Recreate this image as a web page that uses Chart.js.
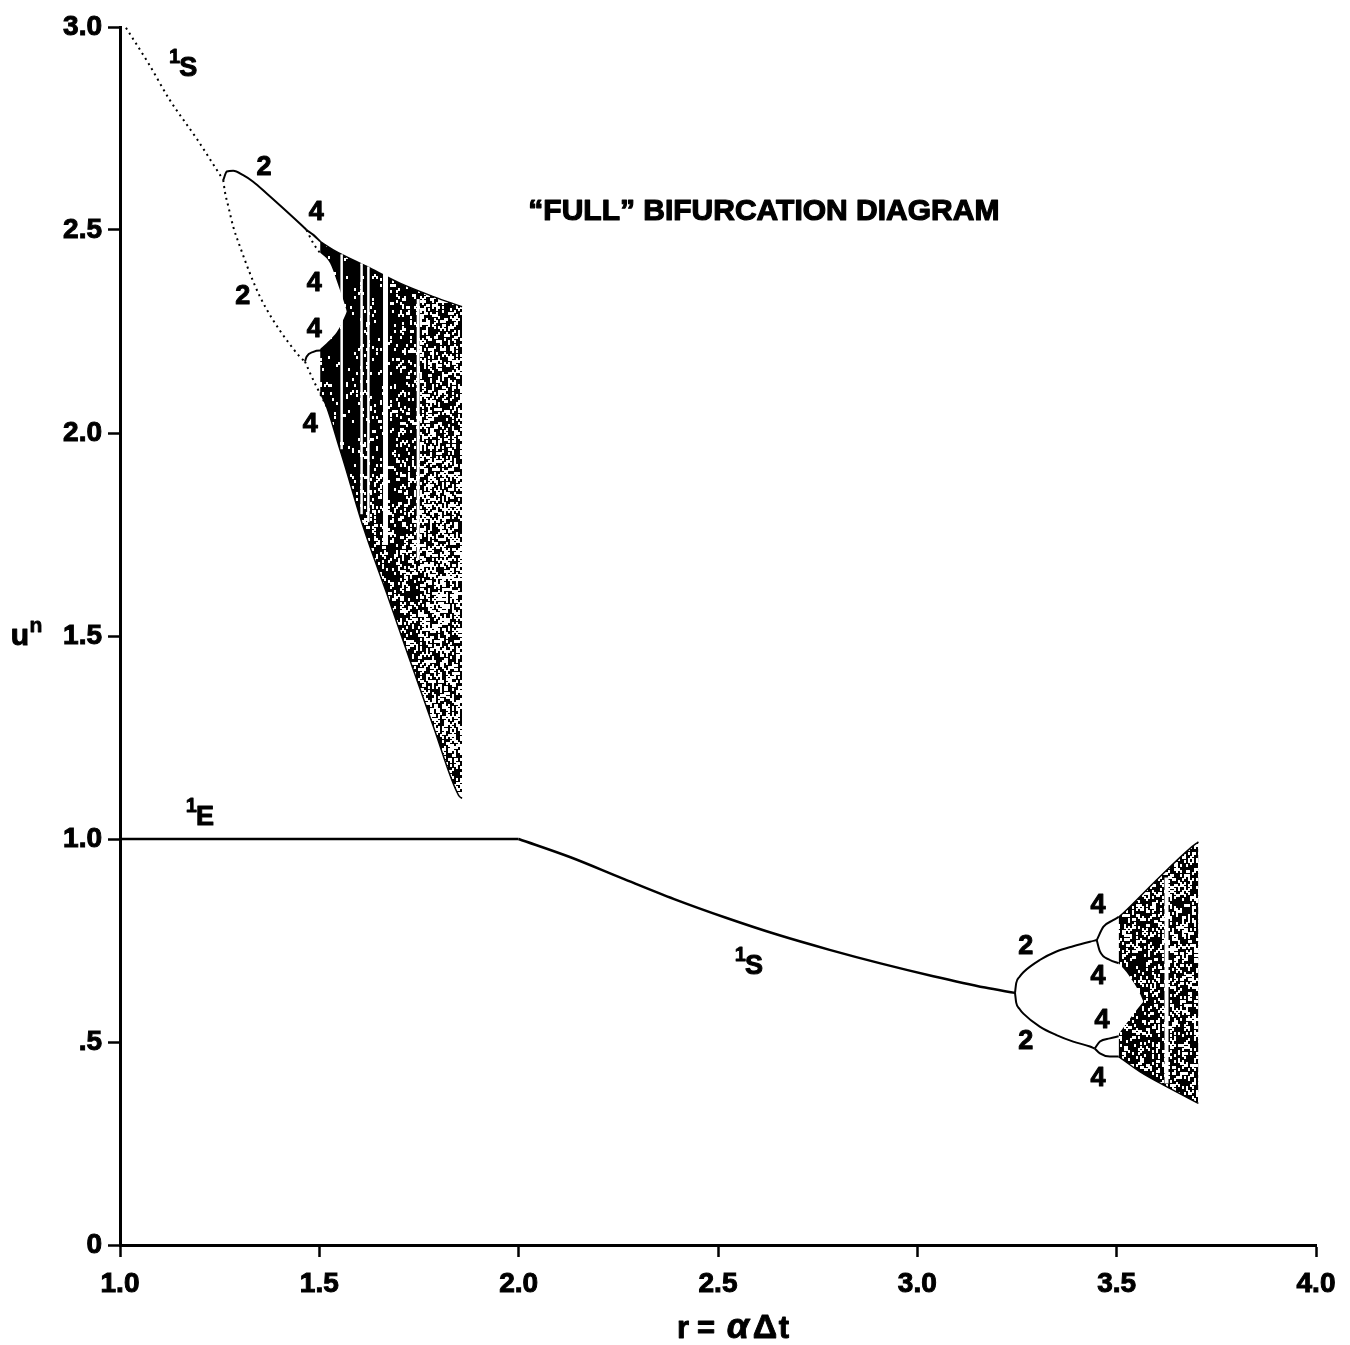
<!DOCTYPE html>
<html>
<head>
<meta charset="utf-8">
<script src="https://cdn.jsdelivr.net/npm/chart.js@4.4.1/dist/chart.umd.min.js"></script>
<style>
  html, body { margin: 0; padding: 0; background: #fff; }
  canvas { display: block; }
</style>
</head>
<body>
<canvas id="chart" width="1350" height="1345"></canvas>
<script>
// ---------------- data (r = alpha*dt, u^n) ----------------
const xTickLabels = ['1.0', '1.5', '2.0', '2.5', '3.0', '3.5', '4.0'];
const yTickLabels = ['0', '.5', '1.0', '1.5', '2.0', '2.5', '3.0'];

// spurious period-1 branch starting at u = 3
const s1HighR = [1.015, 1.071, 1.125, 1.193, 1.259];
const s1HighU = [2.998, 2.911, 2.820, 2.724, 2.623];
// period-2 pair off that branch
const p2HighUpperR = [1.259, 1.268, 1.284, 1.309, 1.334, 1.368, 1.410, 1.451, 1.468];
const p2HighUpperU = [2.623, 2.644, 2.646, 2.635, 2.619, 2.590, 2.553, 2.516, 2.500];
const p2HighLowerR = [1.259, 1.263, 1.272, 1.284, 1.301, 1.326, 1.351, 1.384, 1.418, 1.451, 1.464];
const p2HighLowerU = [2.623, 2.595, 2.557, 2.508, 2.459, 2.393, 2.336, 2.278, 2.229, 2.188, 2.176];
// period-4 orbits
const p4HighAR = [1.468, 1.485, 1.502];
const p4HighAU = [2.500, 2.488, 2.472];
const p4HighBR = [1.468, 1.485, 1.502];
const p4HighBU = [2.500, 2.467, 2.443];
const p4HighCR = [1.464, 1.468, 1.485, 1.502, 1.514];
const p4HighCU = [2.176, 2.188, 2.200, 2.203, 2.200];
const p4HighDR = [1.464, 1.477, 1.493, 1.510, 1.527];
const p4HighDU = [2.176, 2.147, 2.114, 2.081, 2.049];
// chaotic band, upper and lower envelopes
const chaosHighTopR = [1.502, 1.535, 1.619, 1.702, 1.786, 1.858];
const chaosHighTopU = [2.472, 2.451, 2.410, 2.369, 2.336, 2.311];
const chaosHighBotR = [1.502, 1.518, 1.552, 1.560, 1.610, 1.669, 1.727, 1.786, 1.849, 1.858];
const chaosHighBotU = [2.100, 2.065, 1.958, 1.933, 1.769, 1.605, 1.441, 1.277, 1.108, 1.100];
// gap between the two chaotic sub-bands before they merge
const gapHighTopR = [1.497, 1.527, 1.543, 1.560, 1.569];
const gapHighTopU = [2.448, 2.418, 2.377, 2.328, 2.299];
const gapHighBotR = [1.497, 1.518, 1.535, 1.552, 1.569];
const gapHighBotU = [2.203, 2.221, 2.238, 2.262, 2.299];
// periodic windows inside the band: r, upper and lower u
const windowHighR  = [1.556, 1.606, 1.623, 1.666, 1.748];
const windowHighHi = [2.440, 2.418, 2.410, 2.400, 2.330];
const windowHighLo = [1.960, 1.800, 1.780, 1.724, 1.687];

// exact steady state u = 1 and the spurious branch after r = 2
const e1R = [1.0, 2.0];
const e1U = [1.0, 1.0];
const s1LowR = [2.000, 2.130, 2.260, 2.390, 2.520, 2.650, 2.780, 2.910, 3.040, 3.170, 3.245];
const s1LowU = [1.000, 0.955, 0.903, 0.852, 0.806, 0.764, 0.727, 0.693, 0.662, 0.634, 0.621];
const p2LowUpperR = [3.245, 3.248, 3.256, 3.266, 3.307, 3.349, 3.391, 3.433, 3.450];
const p2LowUpperU = [0.621, 0.645, 0.660, 0.672, 0.702, 0.723, 0.736, 0.747, 0.751];
const p2LowLowerR = [3.245, 3.248, 3.256, 3.266, 3.307, 3.349, 3.391, 3.433, 3.445];
const p2LowLowerU = [0.621, 0.597, 0.582, 0.570, 0.538, 0.517, 0.501, 0.489, 0.484];
const p4LowAR = [3.450, 3.467, 3.491, 3.505];
const p4LowAU = [0.751, 0.784, 0.800, 0.808];
const p4LowBR = [3.450, 3.458, 3.483, 3.505];
const p4LowBU = [0.751, 0.723, 0.702, 0.694];
const p4LowCR = [3.445, 3.458, 3.483, 3.505];
const p4LowCU = [0.484, 0.501, 0.509, 0.514];
const p4LowDR = [3.445, 3.458, 3.483, 3.505];
const p4LowDU = [0.484, 0.472, 0.464, 0.464];
const chaosLowTopR = [3.505, 3.516, 3.600, 3.684, 3.705];
const chaosLowTopU = [0.808, 0.817, 0.899, 0.977, 0.993];
const chaosLowBotR = [3.505, 3.558, 3.625, 3.705];
const chaosLowBotU = [0.464, 0.427, 0.390, 0.349];
const gapLowTopR = [3.501, 3.533, 3.558, 3.567];
const gapLowTopU = [0.698, 0.661, 0.620, 0.599];
const gapLowBotR = [3.501, 3.525, 3.550, 3.567];
const gapLowBotU = [0.514, 0.546, 0.579, 0.599];
const windowLowR  = [3.625];
const windowLowHi = [0.905];
const windowLowLo = [0.398];

// branch labels: main glyph, leading superscript, position (r, u)
const branchText = ['S', '2', '4', '2', '4', '4', '4', 'E', 'S', '2', '4', '4', '4', '2', '4'];
const branchSup  = ['1', '', '', '', '', '', '', '1', '1', '', '', '', '', '', ''];
const branchR = [1.171, 1.361, 1.492, 1.308, 1.487, 1.487, 1.477, 1.213, 2.590, 3.272, 3.453, 3.453, 3.463, 3.272, 3.453];
const branchU = [2.897, 2.655, 2.542, 2.335, 2.369, 2.256, 2.022, 1.052, 0.687, 0.736, 0.835, 0.660, 0.554, 0.500, 0.409];

const diagramTitle = '\u201CFULL\u201D BIFURCATION DIAGRAM';
const xTitleParts = ['r', '=', '\u03B1', '\u0394', 't'];

// ---------------- drawing ----------------
const FONT = '"Liberation Sans", Arial, Helvetica, sans-serif';
const pts = (rs, us) => rs.map((r, i) => ({ x: r, y: us[i] }));
const windowHighWidth = [2.5, 2.5, 2.5, 5, 3];
const windowLowWidth = [4];

let grain = '#111';
// speckled look of the densely iterated chaotic regions
function grainNoise(i, j) {
  let h = Math.imul(i, 374761393) + Math.imul(j, 668265263);
  h = Math.imul(h ^ (h >>> 13), 1274126177);
  h ^= h >>> 16;
  return (h >>> 0) / 4294967296;
}
function grainDensity(r, u) {
  if (r > 2.5) return r < 3.6 ? 0.22 : 0.27;
  let d = r < 1.60 ? 0.04 : r < 1.70 ? 0.09 : r < 1.75 ? 0.17 : 0.30;
  if (u < 1.9) d += 0.08;
  return d;
}
const grainPlugin = {
  id: 'grain',
  afterLayout(chart) {
    const { x, y } = chart.scales;
    const c = document.createElement('canvas');
    c.width = chart.width; c.height = chart.height;
    const g = c.getContext('2d');
    g.fillStyle = '#000';
    g.fillRect(0, 0, c.width, c.height);
    g.fillStyle = '#fff';
    for (let py = 0; py < c.height; py += 2) {
      const u = y.getValueForPixel(py);
      for (let px = 0; px < c.width; px += 2) {
        const r = x.getValueForPixel(px);
        if (grainNoise(px >> 1, py >> 1) < grainDensity(r, u)) g.fillRect(px, py, 2, 3);
      }
    }
    grain = g.createPattern(c, 'no-repeat');
  }
};

const datasets = [];
function addCurve(rs, us, dotted, width) {
  datasets.push({
    data: pts(rs, us), showLine: true, pointRadius: 0, fill: false,
    borderColor: '#000', borderWidth: width || 2, borderDash: dotted ? [2, 4] : [],
    borderCapStyle: 'butt', cubicInterpolationMode: 'monotone', clip: false, order: 1
  });
}
function addBand(topR, topU, botR, botU, color, edge, order) {
  const i = datasets.length;
  const common = { showLine: true, pointRadius: 0, borderColor: '#000', borderWidth: edge,
    cubicInterpolationMode: 'monotone', order };
  datasets.push(Object.assign({ data: pts(topR, topU), fill: false }, common));
  datasets.push(Object.assign({ data: pts(botR, botU), fill: { target: i }, backgroundColor: color }, common));
}
function addWindows(rs, his, los, widths) {
  rs.forEach((r, i) => datasets.push({
    data: [{ x: r, y: los[i] }, { x: r, y: his[i] }], showLine: true, pointRadius: 0,
    fill: false, borderColor: '#fff', borderWidth: widths[i], order: 4
  }));
}

// chaotic regions
addBand(chaosHighTopR, chaosHighTopU, chaosHighBotR, chaosHighBotU, () => grain, 1.5, 10);
addBand(chaosLowTopR, chaosLowTopU, chaosLowBotR, chaosLowBotU, () => grain, 1.5, 10);
addBand(gapHighTopR, gapHighTopU, gapHighBotR, gapHighBotU, '#fff', 0, 6);
addBand(gapLowTopR, gapLowTopU, gapLowBotR, gapLowBotU, '#fff', 0, 6);
addWindows(windowHighR, windowHighHi, windowHighLo, windowHighWidth);
addWindows(windowLowR, windowLowHi, windowLowLo, windowLowWidth);

// branches
addCurve(s1HighR, s1HighU, true);
addCurve(p2HighUpperR, p2HighUpperU, false);
addCurve(p2HighLowerR, p2HighLowerU, true);
addCurve(p4HighAR, p4HighAU, false);
addCurve(p4HighBR, p4HighBU, true);
addCurve(p4HighCR, p4HighCU, false);
addCurve(p4HighDR, p4HighDU, true);
addCurve(e1R, e1U, false, 2.5);
addCurve(s1LowR, s1LowU, false, 2.5);
addCurve(p2LowUpperR, p2LowUpperU, false);
addCurve(p2LowLowerR, p2LowLowerU, false);
addCurve(p4LowAR, p4LowAU, false);
addCurve(p4LowBR, p4LowBU, false);
addCurve(p4LowCR, p4LowCU, false);
addCurve(p4LowDR, p4LowDU, false);

function heavyText(ctx, t, px, py, stroke) {
  ctx.lineWidth = stroke;
  ctx.strokeText(t, px, py);
  ctx.fillText(t, px, py);
}

const textPlugin = {
  id: 'texts',
  afterDraw(chart) {
    const { ctx, scales: { x, y } } = chart;
    ctx.save();
    ctx.fillStyle = '#000';
    ctx.strokeStyle = '#000';
    ctx.lineJoin = 'round';
    ctx.textBaseline = 'middle';
    branchText.forEach((t, i) => {
      const px = x.getPixelForValue(branchR[i]);
      const py = y.getPixelForValue(branchU[i]);
      ctx.font = 'bold 27px ' + FONT;
      ctx.textAlign = 'center';
      heavyText(ctx, t, px, py, 1);
      if (branchSup[i]) {
        const w = ctx.measureText(t).width;
        ctx.font = 'bold 20px ' + FONT;
        ctx.textAlign = 'right';
        heavyText(ctx, branchSup[i], px - w / 2 + 1, py - 11, 0.8);
      }
    });
    // title inside the plot
    ctx.font = 'bold 30px ' + FONT;
    ctx.textAlign = 'center';
    heavyText(ctx, diagramTitle, x.getPixelForValue(2.615), y.getPixelForValue(2.544), 1.2);
    // x axis title, set piece by piece
    ctx.textBaseline = 'alphabetic';
    const xc = x.getPixelForValue(2.545);
    const offs = [-53, -30, 2, 29, 48];
    xTitleParts.forEach((p, i) => {
      ctx.font = (i === 2 ? 'italic bold 36px ' : i === 3 ? 'bold 34px ' : 'bold 31px ') + FONT;
      heavyText(ctx, p, xc + offs[i], 1338, 0.9);
    });
    // y axis title
    ctx.textBaseline = 'middle';
    const yMid = y.getPixelForValue(1.5);
    ctx.font = 'bold 30px ' + FONT;
    heavyText(ctx, 'u', 20, yMid + 1, 1);
    ctx.font = 'bold 21px ' + FONT;
    heavyText(ctx, 'n', 36, yMid - 10, 0.8);
    ctx.restore();
  }
};

const tickFont = { family: FONT, weight: 'bold', size: 28 };

new Chart(document.getElementById('chart'), {
  type: 'scatter',
  data: { datasets },
  options: {
    responsive: false,
    animation: false,
    events: [],
    layout: { padding: { top: 27, right: 34, left: 0, bottom: 0 } },
    plugins: { legend: { display: false }, tooltip: { enabled: false } },
    elements: { line: { tension: 0 }, point: { radius: 0 } },
    scales: {
      x: {
        type: 'linear', min: 1, max: 4,
        afterFit: s => { s.height = 100; },
        border: { display: true, color: '#000', width: 3 },
        grid: { drawOnChartArea: false, drawTicks: true, tickLength: 12, tickWidth: 2.5, tickColor: '#000', color: '#000' },
        ticks: { stepSize: 0.5, color: '#000', font: tickFont, padding: 10, maxRotation: 0,
          textStrokeColor: '#000', textStrokeWidth: 1,
          callback: v => xTickLabels[Math.round((v - 1) / 0.5)] }
      },
      y: {
        type: 'linear', min: 0, max: 3,
        afterFit: s => { s.width = 120; },
        border: { display: true, color: '#000', width: 3 },
        grid: { drawOnChartArea: false, drawTicks: true, tickLength: 12, tickWidth: 2.5, tickColor: '#000', color: '#000' },
        ticks: { stepSize: 0.5, color: '#000', font: tickFont, padding: 6,
          textStrokeColor: '#000', textStrokeWidth: 1,
          callback: v => yTickLabels[Math.round(v / 0.5)] }
      }
    }
  },
  plugins: [grainPlugin, textPlugin]
});
</script>
</body>
</html>
